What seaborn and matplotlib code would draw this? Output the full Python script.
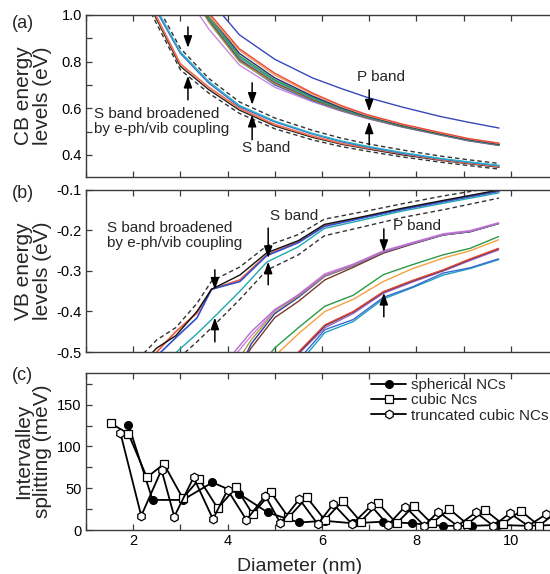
import matplotlib
matplotlib.use("Agg")
import matplotlib.pyplot as plt
from matplotlib.ticker import MultipleLocator
import pandas as pd
import seaborn as sns

# ---------------- (a) conduction-band levels ----------------
cb_s_diam = [2.0, 2.4, 3.0, 3.6, 4.25, 5.0, 5.8, 6.4, 6.95, 7.7, 8.5, 9.1, 9.75]
cb_s_red = [1.25, 1.03, 0.79, 0.69, 0.60, 0.53, 0.48, 0.45, 0.43, 0.405, 0.38, 0.365, 0.35]
cb_s_cyan = [1.30, 1.06, 0.842, 0.715, 0.612, 0.545, 0.492, 0.46, 0.437, 0.41, 0.385, 0.37, 0.355]
cb_s_blue = [1.29, 1.05, 0.835, 0.708, 0.607, 0.541, 0.489, 0.457, 0.434, 0.407, 0.383, 0.368, 0.353]
cb_s_black = [1.24, 1.02, 0.78, 0.68, 0.592, 0.524, 0.475, 0.446, 0.426, 0.40, 0.377, 0.362, 0.347]
cb_s_upper = [1.32, 1.08, 0.857, 0.728, 0.627, 0.558, 0.505, 0.472, 0.448, 0.421, 0.395, 0.379, 0.363]
cb_s_lower = [1.22, 1.00, 0.765, 0.665, 0.578, 0.512, 0.464, 0.436, 0.416, 0.391, 0.369, 0.354, 0.339]

cb_p_diam = [3.0, 3.6, 4.25, 5.0, 5.8, 6.4, 6.95, 7.7, 8.5, 9.1, 9.75]
cb_p_high = [1.30, 1.07, 0.915, 0.81, 0.73, 0.685, 0.647, 0.605, 0.565, 0.54, 0.515]
cb_p_red = [1.15, 1.01, 0.855, 0.75, 0.665, 0.612, 0.573, 0.532, 0.496, 0.47, 0.45]
cb_p_orange = [1.14, 1.00, 0.848, 0.742, 0.66, 0.608, 0.57, 0.53, 0.494, 0.469, 0.449]
cb_p_navy = [1.22, 1.00, 0.835, 0.73, 0.652, 0.603, 0.567, 0.527, 0.491, 0.466, 0.446]
cb_p_green = [1.20, 0.99, 0.825, 0.722, 0.647, 0.60, 0.565, 0.525, 0.49, 0.465, 0.445]
cb_p_teal = [1.19, 0.985, 0.818, 0.717, 0.643, 0.597, 0.563, 0.524, 0.489, 0.464, 0.444]
cb_p_brown = [1.18, 0.98, 0.81, 0.71, 0.638, 0.594, 0.561, 0.522, 0.488, 0.463, 0.443]
cb_p_olive = [1.17, 0.97, 0.80, 0.705, 0.635, 0.592, 0.559, 0.521, 0.487, 0.462, 0.442]
cb_p_blue = [1.20, 0.975, 0.805, 0.70, 0.632, 0.59, 0.558, 0.52, 0.486, 0.461, 0.441]
cb_p_violet = [1.12, 0.94, 0.785, 0.69, 0.628, 0.588, 0.556, 0.519, 0.485, 0.46, 0.44]

# ---------------- (b) valence-band levels ----------------
vb_s_diam = [2.0, 2.5, 2.9, 3.35, 3.66, 4.26, 4.83, 5.5, 6.05, 6.9, 7.7, 8.6, 9.75]
vb_s_black = [-0.55, -0.49, -0.46, -0.40, -0.345, -0.31, -0.255, -0.225, -0.185, -0.165, -0.145, -0.125, -0.100]
vb_s_blue = [-0.60, -0.51, -0.465, -0.416, -0.345, -0.326, -0.262, -0.230, -0.190, -0.168, -0.148, -0.128, -0.103]
vb_s_red = [-0.60, -0.50, -0.45, -0.404, -0.345, -0.322, -0.260, -0.228, -0.188, -0.167, -0.147, -0.127, -0.102]
vb_s_teal = [-0.64, -0.56, -0.502, -0.455, -0.42, -0.35, -0.278, -0.24, -0.195, -0.173, -0.152, -0.132, -0.107]
vb_s_upper = [-0.53, -0.47, -0.44, -0.38, -0.325, -0.29, -0.238, -0.21, -0.172, -0.153, -0.134, -0.114, -0.092]
vb_s_lower = [-0.66, -0.58, -0.522, -0.475, -0.44, -0.37, -0.298, -0.26, -0.213, -0.19, -0.168, -0.148, -0.12]

vb_p_diam = [4.0, 4.5, 5.0, 5.5, 6.06, 6.66, 7.3, 7.9, 8.57, 9.14, 9.74]
vb_p_purple = [-0.52, -0.45, -0.395, -0.36, -0.31, -0.285, -0.252, -0.232, -0.21, -0.202, -0.182]
vb_p_pink = [-0.53, -0.46, -0.398, -0.358, -0.307, -0.283, -0.25, -0.23, -0.208, -0.2, -0.181]
vb_p_olive = [-0.56, -0.47, -0.40, -0.362, -0.312, -0.286, -0.253, -0.232, -0.21, -0.202, -0.182]
vb_p_navy = [-0.60, -0.48, -0.405, -0.365, -0.313, -0.287, -0.254, -0.233, -0.211, -0.203, -0.183]
vb_p_brown = [-0.58, -0.49, -0.415, -0.375, -0.322, -0.291, -0.256, -0.234, -0.211, -0.203, -0.183]
vb_p_green = [-0.62, -0.56, -0.49, -0.44, -0.387, -0.36, -0.309, -0.285, -0.26, -0.244, -0.215]
vb_p_orange = [-0.65, -0.58, -0.51, -0.455, -0.40, -0.37, -0.326, -0.295, -0.268, -0.25, -0.223]
vb_p_red = [-0.70, -0.62, -0.55, -0.50, -0.433, -0.40, -0.351, -0.324, -0.297, -0.27, -0.244]
vb_p_black = [-0.70, -0.62, -0.553, -0.502, -0.435, -0.401, -0.352, -0.325, -0.298, -0.271, -0.245]
vb_p_violet = [-0.71, -0.63, -0.56, -0.505, -0.44, -0.405, -0.355, -0.328, -0.30, -0.274, -0.248]
vb_p_blue = [-0.73, -0.65, -0.58, -0.52, -0.445, -0.42, -0.365, -0.34, -0.305, -0.292, -0.27]
vb_p_teal = [-0.74, -0.66, -0.59, -0.53, -0.452, -0.425, -0.369, -0.342, -0.31, -0.294, -0.272]

# ---------------- (c) intervalley splitting ----------------
spherical_d = [1.90, 2.41, 3.05, 3.68, 4.25, 4.85, 5.51, 6.06, 6.66, 7.30, 7.90, 8.56, 9.17, 9.72, 10.37, 10.95]
spherical_meV = [126, 36, 36, 57, 43, 21, 9, 11, 8, 10, 8, 5, 5, 6, 5, 6]
cubic_d = [1.52, 1.90, 2.29, 2.65, 3.05, 3.40, 3.79, 4.18, 4.53, 4.92, 5.29, 5.68, 6.06,
           6.44, 6.82, 7.19, 7.58, 7.95, 8.32, 8.70, 9.08, 9.45, 9.83, 10.21, 10.60, 10.98]
cubic_meV = [128, 115, 63, 79, 38, 61, 26, 51, 19, 45, 15, 39, 12,
             35, 10, 32, 8, 29, 8, 25, 7, 24, 7, 23, 5, 22]
trunc_d = [1.73, 2.17, 2.60, 2.87, 3.28, 3.69, 4.00, 4.40, 4.80, 5.12, 5.52, 5.91, 6.24,
           6.64, 7.04, 7.40, 7.76, 8.17, 8.46, 8.87, 9.26, 9.63, 9.98, 10.37, 10.75]
trunc_meV = [116, 17, 72, 16, 63, 13, 48, 12, 41, 8, 37, 7, 31,
             7, 29, 6, 28, 5, 22, 5, 21, 5, 20, 5, 19]

series_labels = ["spherical NCs", "cubic Ncs", "truncated cubic NCs"]

sns.set_theme(style="ticks")
plt.rcParams["font.family"] = ["Liberation Sans", "DejaVu Sans"]
plt.rcParams["axes.edgecolor"] = "#3a3a3a"
plt.rcParams["xtick.color"] = "#3a3a3a"
plt.rcParams["ytick.color"] = "#3a3a3a"
plt.rcParams["xtick.labelcolor"] = "black"
plt.rcParams["ytick.labelcolor"] = "black"

W, H = 550, 574
fig = plt.figure(figsize=(W / 100, H / 100), dpi=100)
fig.patch.set_facecolor("white")

def axes_px(left, top, right, bottom):
    return fig.add_axes([left / W, 1 - bottom / H, (right - left) / W, (bottom - top) / H])

ax_a = axes_px(86, 15, 558, 177)
ax_b = axes_px(86, 190, 558, 352)
ax_c = axes_px(86, 373, 558, 530)

LW = 1.0

def draw(ax, x, y, color, ls="-", lw=LW):
    df = pd.DataFrame({"d": x, "E": y})
    sns.lineplot(data=df, x="d", y="E", ax=ax, color=color, linestyle=ls, lw=lw,
                 estimator=None, sort=False)

dash = (0, (3.2, 2.2))

# panel (a)
for vals, col in [(cb_p_high, "#3848b8"),
                  (cb_p_violet, "#c68ae0"), (cb_p_blue, "#3a5ad0"), (cb_p_olive, "#a8a048"),
                  (cb_p_brown, "#8a4a3a"), (cb_p_teal, "#2aa0b0"), (cb_p_green, "#3a9a48"),
                  (cb_p_navy, "#22307a"), (cb_p_orange, "#f0a060"), (cb_p_red, "#e84a3c")]:
    draw(ax_a, cb_p_diam, vals, col)
draw(ax_a, cb_s_diam, cb_s_upper, "#333333", ls=dash)
draw(ax_a, cb_s_diam, cb_s_lower, "#333333", ls=dash)
draw(ax_a, cb_s_diam, cb_s_black, "#222222")
draw(ax_a, cb_s_diam, cb_s_red, "#f07050", lw=1.3)
draw(ax_a, cb_s_diam, cb_s_blue, "#3a6ad0")
draw(ax_a, cb_s_diam, cb_s_cyan, "#28b0c8")

# panel (b)
for vals, col in [(vb_p_teal, "#20a0c0"), (vb_p_blue, "#3a6ad0"), (vb_p_violet, "#9a60c8"),
                  (vb_p_black, "#222222"), (vb_p_red, "#e84a3c"),
                  (vb_p_orange, "#f5a040"), (vb_p_green, "#2a9a48"),
                  (vb_p_brown, "#7a3a2a"), (vb_p_navy, "#2a3a9a"), (vb_p_olive, "#a8a048"),
                  (vb_p_pink, "#d080d8"), (vb_p_purple, "#b070d0")]:
    draw(ax_b, vb_p_diam, vals, col)
draw(ax_b, vb_s_diam, vb_s_upper, "#333333", ls=dash)
draw(ax_b, vb_s_diam, vb_s_lower, "#333333", ls=dash)
draw(ax_b, vb_s_diam, vb_s_teal, "#20a8b0")
draw(ax_b, vb_s_diam, vb_s_red, "#f06040", lw=1.3)
draw(ax_b, vb_s_diam, vb_s_blue, "#3050d0", lw=1.2)
draw(ax_b, vb_s_diam, vb_s_black, "#111111")

# panel (c)
mk = dict(color="black", lw=1.3, markeredgewidth=0.9, markeredgecolor="black",
          estimator=None, sort=False)
df_sph = pd.DataFrame({"d": spherical_d, "s": spherical_meV})
df_cub = pd.DataFrame({"d": cubic_d, "s": cubic_meV})
df_tru = pd.DataFrame({"d": trunc_d, "s": trunc_meV})
sns.lineplot(data=df_sph, x="d", y="s", ax=ax_c, marker="o", markerfacecolor="black",
             markersize=5.6, label=series_labels[0], **mk)
sns.lineplot(data=df_cub, x="d", y="s", ax=ax_c, marker="s", markerfacecolor="white",
             markersize=5.6, label=series_labels[1], **mk)
sns.lineplot(data=df_tru, x="d", y="s", ax=ax_c, marker="h", markerfacecolor="white",
             markersize=6.2, label=series_labels[2], **mk)

leg = ax_c.legend(loc="upper left", bbox_to_anchor=((371 - 86) / 472, 0.967), frameon=False,
                  fontsize=11, handlelength=2.3, handletextpad=0.3, labelspacing=0.08,
                  borderaxespad=0, borderpad=0)

# axes styling
for ax in (ax_a, ax_b, ax_c):
    ax.set_xlim(1, 11)
    ax.xaxis.set_major_locator(MultipleLocator(2))
    ax.xaxis.set_minor_locator(MultipleLocator(1))
    ax.tick_params(which="both", direction="in", top=True, right=True, labelsize=10.5,
                   width=0.9, pad=3)
    ax.tick_params(which="major", length=4.5)
    ax.tick_params(which="minor", length=4.5)
    ax.set_xlabel("")
    for s in ax.spines.values():
        s.set_linewidth(1.0)
    ax.set_facecolor("white")

ax_a.set_ylim(0.305, 1.0)
ax_a.yaxis.set_major_locator(MultipleLocator(0.2))
ax_a.yaxis.set_minor_locator(MultipleLocator(0.1))
ax_a.yaxis.set_major_formatter(lambda v, p: f"{v:.1f}")
ax_a.tick_params(axis="x", labelbottom=False)

ax_b.set_ylim(-0.5, -0.1)
ax_b.yaxis.set_major_locator(MultipleLocator(0.1))
ax_b.yaxis.set_major_formatter(lambda v, p: f"{v:.1f}")
ax_b.tick_params(axis="x", labelbottom=False)

ax_c.set_ylim(0, 188)
ax_c.yaxis.set_major_locator(MultipleLocator(50))
ax_c.yaxis.set_minor_locator(MultipleLocator(25))
ax_c.set_xlabel("Diameter (nm)", fontsize=14)
ax_c.xaxis.set_label_coords((300 - 86) / 472, -0.18)

ylab_kw = dict(fontsize=15, linespacing=1.0)
ax_a.set_ylabel("CB energy\nlevels (eV)", **ylab_kw)
ax_b.set_ylabel("VB energy\nlevels (eV)", **ylab_kw)
ax_c.set_ylabel("Intervalley\nsplitting (meV)", **ylab_kw)
for ax in (ax_a, ax_b, ax_c):
    ax.yaxis.set_label_coords((52 - 86) / 472, 0.5)

fig.text(12 / W, 1 - 23 / H, "(a)", fontsize=13, va="center", ha="left")
fig.text(12 / W, 1 - 194 / H, "(b)", fontsize=13, va="center", ha="left")
fig.text(12 / W, 1 - 375 / H, "(c)", fontsize=13, va="center", ha="left")

arrow_kw = dict(arrowstyle="-|>,head_length=0.7,head_width=0.25", color="black", lw=1.1,
                shrinkA=0, shrinkB=0, mutation_scale=10)
txt_kw = dict(fontsize=11, va="center", ha="left", linespacing=1.1)

def arrow(ax, x, y0, y1):
    ax.annotate("", xy=(x, y1), xytext=(x, y0), arrowprops=arrow_kw)

# annotations (a)
ax_a.text(1.17, 0.542, "S band broadened\nby e-ph/vib coupling", **txt_kw)
ax_a.text(4.31, 0.43, "S band", **txt_kw)
ax_a.text(6.74, 0.734, "P band", **txt_kw)
arrow(ax_a, 3.16, 0.949, 0.859)
arrow(ax_a, 3.16, 0.636, 0.739)
arrow(ax_a, 4.52, 0.709, 0.615)
arrow(ax_a, 4.52, 0.465, 0.572)
arrow(ax_a, 7.00, 0.679, 0.586)
arrow(ax_a, 7.00, 0.443, 0.543)

# annotations (b)
ax_b.text(1.44, -0.213, "S band broadened\nby e-ph/vib coupling", **txt_kw)
ax_b.text(4.90, -0.164, "S band", **txt_kw)
ax_b.text(7.50, -0.189, "P band", **txt_kw)
arrow(ax_b, 3.73, -0.297, -0.346)
arrow(ax_b, 3.73, -0.475, -0.415)
arrow(ax_b, 4.86, -0.194, -0.268)
arrow(ax_b, 4.86, -0.334, -0.277)
arrow(ax_b, 7.31, -0.196, -0.253)
arrow(ax_b, 7.31, -0.413, -0.354)

fig.savefig("out.png", dpi=100, facecolor="white")
